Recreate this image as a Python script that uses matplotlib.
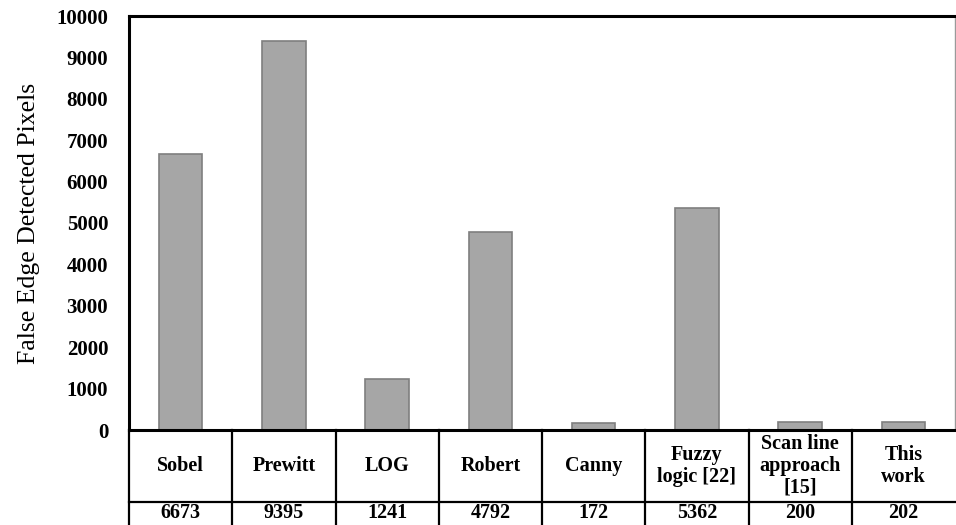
import numpy as np
import matplotlib.pyplot as plt

plt.rcParams['font.family'] = ['Liberation Serif', 'DejaVu Serif']

methods = ['Sobel', 'Prewitt', 'LOG', 'Robert', 'Canny',
           'Fuzzy\nlogic [22]', 'Scan line\napproach\n[15]', 'This\nwork']
false_pixels = [6673, 9395, 1241, 4792, 172, 5362, 200, 202]
yticks = [0, 1000, 2000, 3000, 4000, 5000, 6000, 7000, 8000, 9000, 10000]

W, H = 956, 525
fig = plt.figure(figsize=(W / 100, H / 100), dpi=100)
# plot area in pixels: left 129, right 955, top 16, bottom 430
ax = fig.add_axes([129 / W, 1 - 430 / H, (955 - 129) / W, (430 - 16) / H])

x = np.arange(len(methods))
ax.bar(x, false_pixels, width=0.42, color='#a6a6a6', edgecolor='#7f7f7f', linewidth=1.2)

ax.set_xlim(-0.5, len(methods) - 0.5)
ax.set_ylim(0, 10000)
ax.set_yticks(yticks)
ax.set_yticklabels([str(t) for t in yticks], fontsize=15, fontweight='bold')
ax.tick_params(axis='y', length=0, pad=15)
ax.set_xticks([])
ax.set_ylabel('False Edge Detected Pixels', fontsize=18.5, labelpad=12)

for side in ['left', 'top', 'bottom']:
    ax.spines[side].set_linewidth(2.2)
    ax.spines[side].set_color('black')
ax.spines['right'].set_color('#9a9a9a')
ax.spines['right'].set_linewidth(1)

# data table under the axis
tr = ax.get_xaxis_transform()
h_px = 430 - 16
row1 = -(502 - 430) / h_px
row_end = -(530 - 430) / h_px
for i in range(len(methods)):
    ax.plot([i - 0.5, i - 0.5], [0, row_end], transform=tr, color='black',
            lw=1.6, clip_on=False)
ax.plot([-0.5, len(methods) - 0.5], [row1, row1], transform=tr, color='black',
        lw=1.6, clip_on=False)

for i, (name, val) in enumerate(zip(methods, false_pixels)):
    ax.text(i, row1 / 2, name, transform=tr, ha='center', va='center',
            fontsize=14.5, fontweight='bold', linespacing=1.12)
    ax.text(i, -(513 - 430) / h_px, str(val), transform=tr, ha='center',
            va='center', fontsize=14.5, fontweight='bold')

fig.savefig('out.png', dpi=100, facecolor='white')
